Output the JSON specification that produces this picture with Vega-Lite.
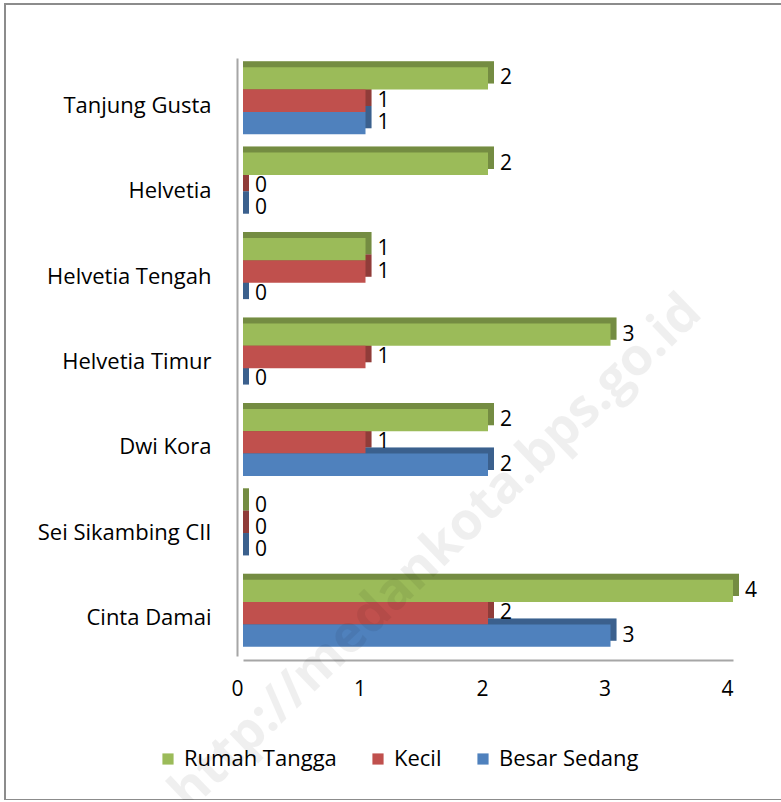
{
  "$schema": "https://vega.github.io/schema/vega-lite/v6.json",
  "width": 778,
  "height": 796,
  "autosize": {"type": "none"},
  "padding": {"left": 5, "top": 4, "right": 0, "bottom": 0},
  "background": "white",
  "config": {
    "view": {"stroke": "#8c8c8c", "strokeWidth": 2},
    "font": "Open Sans",
    "axis": {"labelFont": "Open Sans", "labelColor": "#000000", "grid": false, "ticks": false, "domainColor": "#a6a6a6", "domainWidth": 2},
    "legend": {"labelFont": "Open Sans"}
  },
  "data": {
    "values": [
      {"wilayah": "Tanjung Gusta", "jenis": "Rumah Tangga", "nilai": 2},
      {"wilayah": "Tanjung Gusta", "jenis": "Kecil", "nilai": 1},
      {"wilayah": "Tanjung Gusta", "jenis": "Besar Sedang", "nilai": 1},
      {"wilayah": "Helvetia", "jenis": "Rumah Tangga", "nilai": 2},
      {"wilayah": "Helvetia", "jenis": "Kecil", "nilai": 0},
      {"wilayah": "Helvetia", "jenis": "Besar Sedang", "nilai": 0},
      {"wilayah": "Helvetia Tengah", "jenis": "Rumah Tangga", "nilai": 1},
      {"wilayah": "Helvetia Tengah", "jenis": "Kecil", "nilai": 1},
      {"wilayah": "Helvetia Tengah", "jenis": "Besar Sedang", "nilai": 0},
      {"wilayah": "Helvetia Timur", "jenis": "Rumah Tangga", "nilai": 3},
      {"wilayah": "Helvetia Timur", "jenis": "Kecil", "nilai": 1},
      {"wilayah": "Helvetia Timur", "jenis": "Besar Sedang", "nilai": 0},
      {"wilayah": "Dwi Kora", "jenis": "Rumah Tangga", "nilai": 2},
      {"wilayah": "Dwi Kora", "jenis": "Kecil", "nilai": 1},
      {"wilayah": "Dwi Kora", "jenis": "Besar Sedang", "nilai": 2},
      {"wilayah": "Sei Sikambing CII", "jenis": "Rumah Tangga", "nilai": 0},
      {"wilayah": "Sei Sikambing CII", "jenis": "Kecil", "nilai": 0},
      {"wilayah": "Sei Sikambing CII", "jenis": "Besar Sedang", "nilai": 0},
      {"wilayah": "Cinta Damai", "jenis": "Rumah Tangga", "nilai": 4},
      {"wilayah": "Cinta Damai", "jenis": "Kecil", "nilai": 2},
      {"wilayah": "Cinta Damai", "jenis": "Besar Sedang", "nilai": 3}
    ]
  },
  "encoding": {
    "y": {
      "field": "wilayah",
      "type": "nominal",
      "sort": ["Tanjung Gusta", "Helvetia", "Helvetia Tengah", "Helvetia Timur", "Dwi Kora", "Sei Sikambing CII", "Cinta Damai"],
      "scale": {"range": [54, 652], "paddingInner": 0.215, "paddingOuter": 0.1075},
      "axis": {"title": null, "labelFontSize": 22, "labelPadding": 26, "offset": -232, "labelOffset": 5}
    },
    "x": {
      "field": "nilai",
      "type": "quantitative",
      "scale": {"domain": [0, 4], "nice": false, "range": [238, 728]},
      "axis": {"title": null, "values": [0, 1, 2, 3, 4], "labelFontSize": 21, "labelPadding": 18, "offset": -140, "labelOffset": -6, "labelFlush": false}
    }
  },
  "resolve": {"scale": {"yOffset": "independent"}},
  "layer": [
    {
      "mark": {"type": "bar", "xOffset": 6, "x2Offset": 0},
      "encoding": {
        "x2": {"datum": 0},
        "yOffset": {
          "field": "jenis",
          "type": "nominal",
          "sort": ["Rumah Tangga", "Kecil", "Besar Sedang"],
          "scale": {"range": [-6, 61.06], "paddingInner": 0, "paddingOuter": 0}
        },
        "color": {
          "field": "jenis",
          "type": "nominal",
          "sort": ["Rumah Tangga", "Kecil", "Besar Sedang"],
          "scale": {"domain": ["Rumah Tangga", "Kecil", "Besar Sedang"], "range": ["#9BBB59", "#C0504D", "#4F81BD"]},
          "legend": {
            "title": null,
            "orient": "none",
            "legendX": 152,
            "legendY": 744,
            "direction": "horizontal",
            "symbolType": "square",
            "symbolSize": 125,
            "symbolStrokeWidth": 0,
            "labelFontSize": 22,
            "labelOffset": 5,
            "columnPadding": 30
          }
        }
      }
    },
    {
      "mark": {"type": "bar", "xOffset": 6, "x2Offset": 0, "color": "#000000", "opacity": 0.25},
      "encoding": {
        "x2": {"datum": 0},
        "yOffset": {
          "field": "jenis",
          "type": "nominal",
          "sort": ["Rumah Tangga", "Kecil", "Besar Sedang"],
          "scale": {"range": [-6, 61.06], "paddingInner": 0, "paddingOuter": 0}
        }
      }
    },
    {
      "mark": {"type": "bar"},
      "encoding": {
        "yOffset": {
          "field": "jenis",
          "type": "nominal",
          "sort": ["Rumah Tangga", "Kecil", "Besar Sedang"],
          "scale": {"range": [0, 67.06], "paddingInner": 0, "paddingOuter": 0}
        },
        "color": {
          "field": "jenis",
          "type": "nominal",
          "sort": ["Rumah Tangga", "Kecil", "Besar Sedang"],
          "scale": {"domain": ["Rumah Tangga", "Kecil", "Besar Sedang"], "range": ["#9BBB59", "#C0504D", "#4F81BD"]}
        }
      }
    },
    {
      "mark": {"type": "text", "align": "left", "baseline": "middle", "dx": 12, "fontSize": 21, "color": "#000000"},
      "encoding": {
        "yOffset": {
          "field": "jenis",
          "type": "nominal",
          "sort": ["Rumah Tangga", "Kecil", "Besar Sedang"],
          "scale": {"type": "point", "range": [11.18, 55.88], "padding": 0}
        },
        "text": {"field": "nilai", "type": "quantitative"}
      }
    },
    {
      "data": {"values": [{"teks": "http://medankota.bps.go.id", "nilai": 1.38, "wilayah": "Sei Sikambing CII"}]},
      "mark": {"type": "text", "align": "center", "baseline": "middle", "angle": -44, "dy": 34, "fontSize": 52, "fontWeight": "bold", "color": "#000000", "opacity": 0.06},
      "encoding": {"text": {"field": "teks", "type": "nominal"}}
    }
  ]
}
